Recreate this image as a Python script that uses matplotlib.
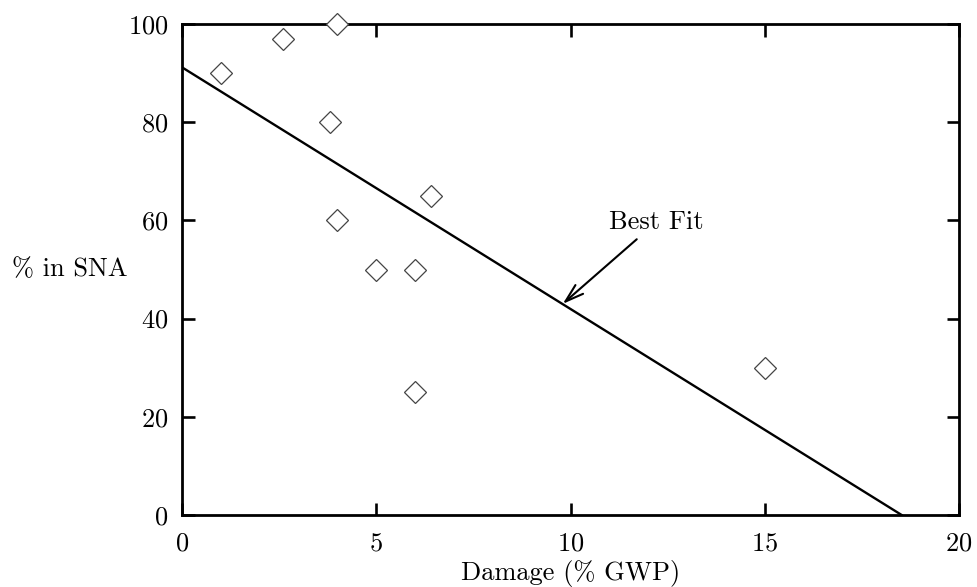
import numpy as np
import matplotlib
matplotlib.use('Agg')
import matplotlib.pyplot as plt

# data
damage = [1.0, 2.6, 4.0, 3.8, 4.0, 6.4, 5.0, 6.0, 6.0, 15.0]
sna_pct = [90, 97, 100, 80, 60, 65, 50, 50, 25, 30]

plt.rcParams['font.family'] = 'cmr10'
plt.rcParams['mathtext.fontset'] = 'cm'
plt.rcParams['axes.unicode_minus'] = False
plt.rcParams['axes.formatter.use_mathtext'] = True

fig = plt.figure(figsize=(9.77, 5.87), dpi=100)
ax = fig.add_axes([182/977, 1 - 515/587, (959 - 182)/977, (515 - 24)/587])

# least squares line, drawn from x=0 to where it hits zero
slope, icept = np.polyfit(damage, sna_pct, 1)
x_end = -icept / slope
ax.plot([0, x_end], [icept, 0], color='black', lw=1.7, zorder=2)

ax.plot(damage, sna_pct, linestyle='none', marker='D', markersize=11,
        markerfacecolor='white', markeredgecolor='#444444', markeredgewidth=0.9,
        clip_on=False, zorder=3)

ax.annotate('Best Fit', xy=(9.8, 43.0), xytext=(11.0, 59.7),
            fontsize=19, ha='left', va='center',
            arrowprops=dict(arrowstyle='->,head_length=0.7,head_width=0.22',
                            color='black', lw=1.5, shrinkA=3, shrinkB=0))

ax.set_xlim(0, 20)
ax.set_ylim(0, 100)
ax.set_xticks([0, 5, 10, 15, 20])
ax.set_yticks([0, 20, 40, 60, 80, 100])
ax.tick_params(direction='in', length=9, width=1.9, labelsize=19,
               top=True, right=True, pad=10)
ax.tick_params(axis='x', pad=12)
for s in ax.spines.values():
    s.set_linewidth(2.0)

ax.set_xlabel('Damage (% GWP)', fontsize=19, labelpad=3)
ax.set_ylabel('% in SNA', fontsize=19, rotation=0, ha='left', va='center')
ax.yaxis.set_label_coords(-182/777 + 12/777, 0.5)

fig.savefig('out.png', dpi=100)
